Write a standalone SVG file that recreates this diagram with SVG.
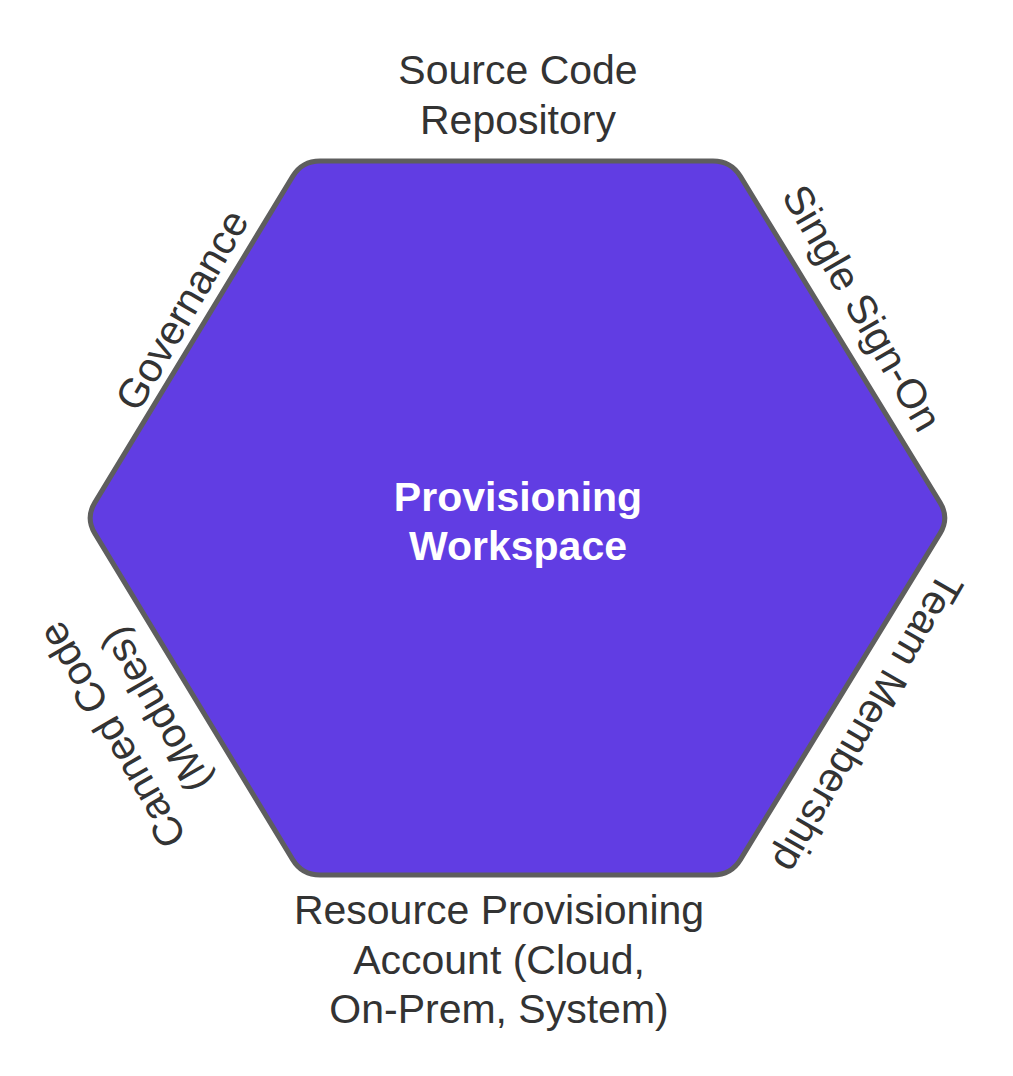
<svg xmlns="http://www.w3.org/2000/svg" width="1013" height="1076" viewBox="0 0 1013 1076">
<style>
.lbl{font-family:"Liberation Sans",Arial,sans-serif;font-size:41px;fill:#333333;text-anchor:middle}
.ctr{font-family:"Liberation Sans",Arial,sans-serif;font-size:41px;font-weight:bold;fill:#ffffff;text-anchor:middle}
</style>
<rect width="1013" height="1076" fill="#ffffff"/>
<g id="hexagon">
<path d="M320,161 L713,161 Q731,161 740.4,176.4 L940.1,502.6 Q949.5,518 940.1,533.4 L740.4,859.6 Q731,875 713,875 L320,875 Q302,875 292.7,859.6 L94.8,533.4 Q85.5,518 94.8,502.6 L292.7,176.4 Q302,161 320,161 Z" fill="#613de3" stroke="#5e5e5e" stroke-width="5" stroke-linejoin="round"/>
<text class="ctr"><tspan x="518" y="511">Provisioning</tspan><tspan x="518" y="560">Workspace</tspan></text>
</g>
<g id="label-source-code">
<text class="lbl"><tspan x="518" y="84">Source Code</tspan><tspan x="518" y="134">Repository</tspan></text>
</g>
<g id="label-single-sign-on">
<text class="lbl" transform="translate(862,308) rotate(60)" x="0" y="14">Single Sign-On</text>
</g>
<g id="label-team-membership">
<text class="lbl" transform="translate(868,723) rotate(120)" x="0" y="14">Team Membership</text>
</g>
<g id="label-resource">
<text class="lbl"><tspan x="499" y="924">Resource Provisioning</tspan><tspan x="499" y="974">Account (Cloud,</tspan><tspan x="499" y="1023">On-Prem, System)</tspan></text>
</g>
<g id="label-canned-code">
<text class="lbl" transform="translate(112,735) rotate(-120)"><tspan x="0" y="14">Canned Code</tspan><tspan x="0" y="64">(Modules)</tspan></text>
</g>
<g id="label-governance">
<text class="lbl" transform="translate(182,310) rotate(-60)" x="0" y="14">Governance</text>
</g>
<g id="connectors"></g>
</svg>
